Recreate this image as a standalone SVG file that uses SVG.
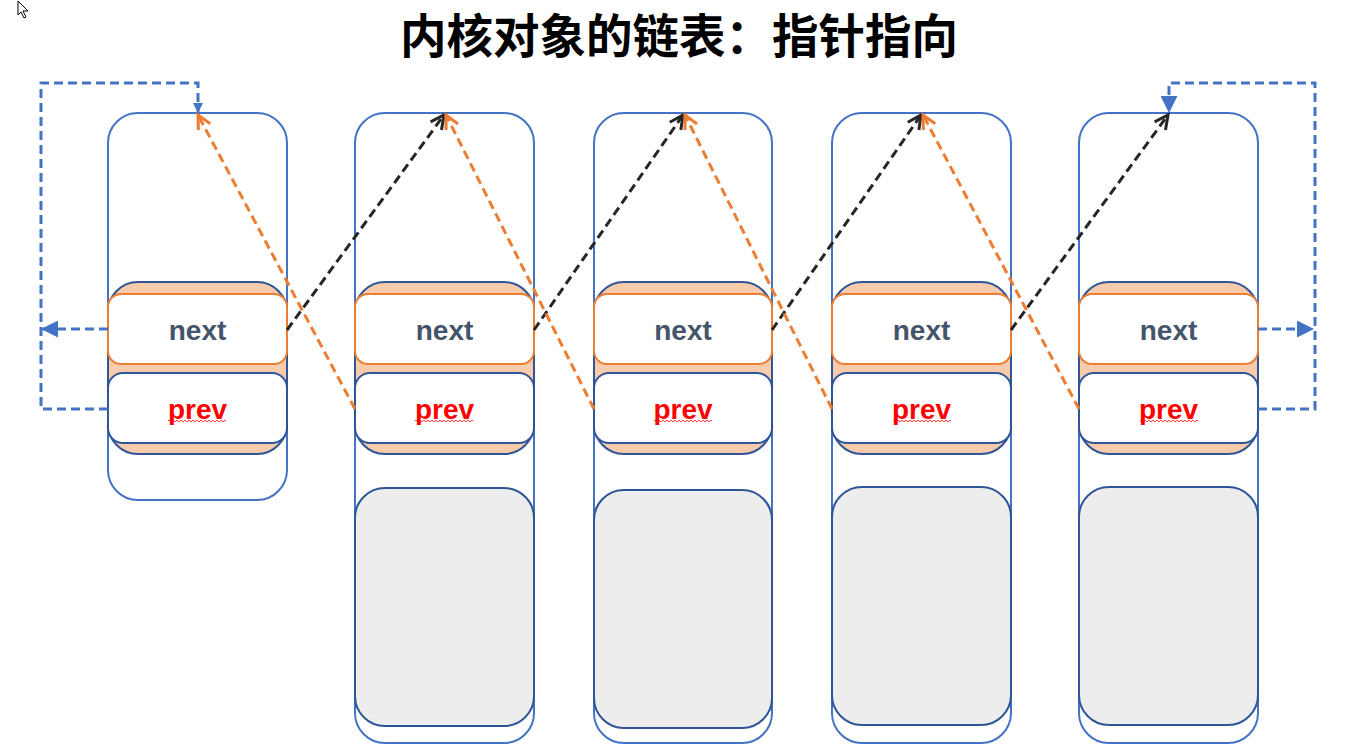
<svg xmlns="http://www.w3.org/2000/svg" width="1356" height="754" viewBox="0 0 1356 754">
<style>
.outer{fill:#fff;stroke:#4472C4;stroke-width:2}
.entry{fill:#F8CBAD;stroke:#2F5597;stroke-width:2}
.next{fill:#fff;stroke:#ED7D31;stroke-width:2}
.prev{fill:#fff;stroke:#2F5597;stroke-width:2}
.body{fill:#EDEDED;stroke:#2F5597;stroke-width:2}
.tn{font-family:"Liberation Sans",Arial,sans-serif;font-weight:bold;font-size:28px;fill:#44546A;text-anchor:middle}
.tp{font-family:"Liberation Sans",Arial,sans-serif;font-weight:bold;font-size:28px;fill:#FF0000;text-anchor:middle}
.sq{fill:none;stroke:#FF0000;stroke-width:0.8}
.blk{fill:none;stroke:#262626;stroke-width:3;stroke-dasharray:9,5}
.org{fill:none;stroke:#ED7D31;stroke-width:3;stroke-dasharray:9,5}
.blu{fill:none;stroke:#4472C4;stroke-width:3;stroke-dasharray:9,5}
</style>
<defs>
<marker id="ab" viewBox="0 0 10 10" refX="9" refY="5" markerWidth="15" markerHeight="15" orient="auto" markerUnits="userSpaceOnUse" style="overflow:visible">
<path d="M0,0.5 L9,5 L0,9.5" fill="none" stroke="#262626" stroke-width="2"/>
</marker>
<marker id="ao" viewBox="0 0 10 10" refX="9" refY="5" markerWidth="15" markerHeight="15" orient="auto" markerUnits="userSpaceOnUse" style="overflow:visible">
<path d="M0,0.5 L9,5 L0,9.5" fill="none" stroke="#ED7D31" stroke-width="2"/>
</marker>
<marker id="bl" viewBox="0 0 10 10" refX="10" refY="5" markerWidth="17" markerHeight="17" orient="auto" markerUnits="userSpaceOnUse">
<path d="M0,0 L10,5 L0,10 Z" fill="#4472C4"/>
</marker>
<marker id="bs" viewBox="0 0 10 10" refX="10" refY="5" markerWidth="10" markerHeight="10" orient="auto" markerUnits="userSpaceOnUse">
<path d="M0,0 L10,5 L0,10 Z" fill="#4472C4"/>
</marker>
</defs>
<rect width="1356" height="754" fill="#fff"/>
<path d="M18,1 L18,15 L21,12 L24,18 L26,17 L23,11 L28,11 Z" fill="#fff" stroke="#000" stroke-width="1"/>
<text x="679" y="53" font-family="'Noto Sans CJK SC','Liberation Sans',sans-serif" font-weight="bold" font-size="46.5" fill="#000" text-anchor="middle">内核对象的链表：指针指向</text>

<g id="node1">
<rect class="outer" x="108" y="113" width="179" height="387" rx="30"/>
<rect class="entry" x="108" y="282" width="179" height="172" rx="30"/>
<rect class="next" x="108" y="294" width="179" height="70" rx="13"/>
<rect class="prev" x="108" y="373" width="179" height="70" rx="15"/>
<text class="tn" x="197.5" y="340">next</text>
<text class="tp" x="197.5" y="419">prev</text>
<path class="sq" d="M168,421 q1,-1.5 2,0 t2,0 t2,0 t2,0 t2,0 t2,0 t2,0 t2,0 t2,0 t2,0 t2,0 t2,0 t2,0 t2,0 t2,0 t2,0 t2,0 t2,0 t2,0 t2,0 t2,0 t2,0 t2,0 t2,0 t2,0 t2,0 t2,0 t2,0 t2,0"/>
</g>
<g id="node2">
<rect class="outer" x="355" y="113" width="179" height="630" rx="30"/>
<rect class="entry" x="355" y="282" width="179" height="172" rx="30"/>
<rect class="next" x="355" y="294" width="179" height="70" rx="13"/>
<rect class="prev" x="355" y="373" width="179" height="70" rx="15"/>
<rect class="body" x="355" y="488" width="179" height="238" rx="30"/>
<text class="tn" x="444.5" y="340">next</text>
<text class="tp" x="444.5" y="419">prev</text>
<path class="sq" d="M415,421 q1,-1.5 2,0 t2,0 t2,0 t2,0 t2,0 t2,0 t2,0 t2,0 t2,0 t2,0 t2,0 t2,0 t2,0 t2,0 t2,0 t2,0 t2,0 t2,0 t2,0 t2,0 t2,0 t2,0 t2,0 t2,0 t2,0 t2,0 t2,0 t2,0 t2,0"/>
</g>
<g id="node3">
<rect class="outer" x="594" y="113" width="178" height="630" rx="30"/>
<rect class="entry" x="594" y="282" width="178" height="172" rx="30"/>
<rect class="next" x="594" y="294" width="178" height="70" rx="13"/>
<rect class="prev" x="594" y="373" width="178" height="70" rx="15"/>
<rect class="body" x="594" y="490" width="178" height="238" rx="30"/>
<text class="tn" x="683" y="340">next</text>
<text class="tp" x="683" y="419">prev</text>
<path class="sq" d="M654,421 q1,-1.5 2,0 t2,0 t2,0 t2,0 t2,0 t2,0 t2,0 t2,0 t2,0 t2,0 t2,0 t2,0 t2,0 t2,0 t2,0 t2,0 t2,0 t2,0 t2,0 t2,0 t2,0 t2,0 t2,0 t2,0 t2,0 t2,0 t2,0 t2,0 t2,0"/>
</g>
<g id="node4">
<rect class="outer" x="832" y="113" width="179" height="630" rx="30"/>
<rect class="entry" x="832" y="282" width="179" height="172" rx="30"/>
<rect class="next" x="832" y="294" width="179" height="70" rx="13"/>
<rect class="prev" x="832" y="373" width="179" height="70" rx="15"/>
<rect class="body" x="832" y="487" width="179" height="238" rx="30"/>
<text class="tn" x="921.5" y="340">next</text>
<text class="tp" x="921.5" y="419">prev</text>
<path class="sq" d="M893,421 q1,-1.5 2,0 t2,0 t2,0 t2,0 t2,0 t2,0 t2,0 t2,0 t2,0 t2,0 t2,0 t2,0 t2,0 t2,0 t2,0 t2,0 t2,0 t2,0 t2,0 t2,0 t2,0 t2,0 t2,0 t2,0 t2,0 t2,0 t2,0 t2,0 t2,0"/>
</g>
<g id="node5">
<rect class="outer" x="1079" y="113" width="179" height="630" rx="30"/>
<rect class="entry" x="1079" y="282" width="179" height="172" rx="30"/>
<rect class="next" x="1079" y="294" width="179" height="70" rx="13"/>
<rect class="prev" x="1079" y="373" width="179" height="70" rx="15"/>
<rect class="body" x="1079" y="487" width="179" height="238" rx="30"/>
<text class="tn" x="1168.5" y="340">next</text>
<text class="tp" x="1168.5" y="419">prev</text>
<path class="sq" d="M1140,421 q1,-1.5 2,0 t2,0 t2,0 t2,0 t2,0 t2,0 t2,0 t2,0 t2,0 t2,0 t2,0 t2,0 t2,0 t2,0 t2,0 t2,0 t2,0 t2,0 t2,0 t2,0 t2,0 t2,0 t2,0 t2,0 t2,0 t2,0 t2,0 t2,0 t2,0"/>
</g>

<g id="connectors">
<path class="blk" d="M287,330 L444,115" marker-end="url(#ab)"/>
<path class="blk" d="M534,330 L683,115" marker-end="url(#ab)"/>
<path class="blk" d="M772,330 L921,115" marker-end="url(#ab)"/>
<path class="blk" d="M1011,330 L1168,115" marker-end="url(#ab)"/>
<path class="org" d="M355,409 L198,115" marker-end="url(#ao)"/>
<path class="org" d="M594,409 L446,115" marker-end="url(#ao)"/>
<path class="org" d="M832,409 L685,115" marker-end="url(#ao)"/>
<path class="org" d="M1079,409 L923,115" marker-end="url(#ao)"/>
<path class="blu" d="M108,329 L41,329" marker-end="url(#bl)"/>
<path class="blu" d="M108,409 L41,409 L41,83 L198,83 L198,113" marker-end="url(#bs)"/>
<path class="blu" d="M1258,329 L1314,329" marker-end="url(#bl)"/>
<path class="blu" d="M1258,409 L1315,409 L1315,83 L1169,83 L1169,113" marker-end="url(#bl)"/>
</g>
</svg>
